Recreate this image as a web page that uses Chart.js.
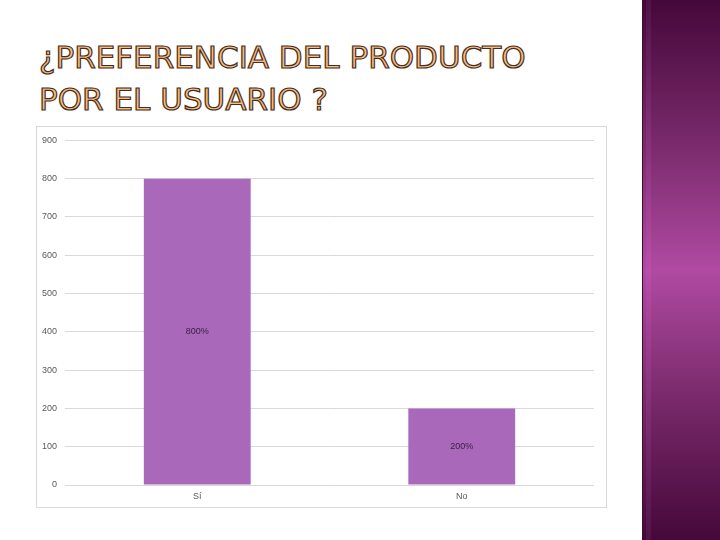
<!DOCTYPE html>
<html>
<head>
<meta charset="utf-8">
<script src="https://cdn.jsdelivr.net/npm/chart.js@4"></script>
<style>
  html, body { margin: 0; padding: 0; background: #fff; }
  #slide { position: relative; width: 720px; height: 540px; overflow: hidden; background: #fff; }
  #band {
    position: absolute; left: 642px; top: 0; width: 78px; height: 540px;
    background: linear-gradient(to bottom, #45083a 0%, #762868 25%, #b04aa2 50%, #762868 75%, #45083a 100%);
    border-left: 1px solid #3a1030;
  }
  #band::before {
    content: ""; position: absolute; left: 3px; top: 0; width: 5px; height: 540px;
    background: linear-gradient(to bottom, #5a1a50, #c050b0 50%, #5a1a50);
    opacity: 0.6;
  }
  #title {
    position: absolute; left: 39px; top: 36px; width: 600px;
    font-family: "DejaVu Sans", sans-serif; font-size: 31px; line-height: 42px;
    letter-spacing: 0px; color: #f6bf80;
    -webkit-text-stroke: 1.2px #4a2c1c;
  }
  #box {
    position: absolute; left: 36px; top: 126px; width: 569px; height: 380px;
    border: 1px solid #d9d9d9;
  }
</style>
</head>
<body>
<div id="slide">
  <div id="band"></div>
  <div id="title">¿PREFERENCIA DEL PRODUCTO<br>POR EL USUARIO ?</div>
  <div id="box"><canvas id="chart" width="569" height="380"></canvas></div>
</div>
<script>
const categories = ["Sí", "No"];
const values = [800, 200];
const labels = ["800%", "200%"];
const yTicks = [0, 100, 200, 300, 400, 500, 600, 700, 800, 900];

const barLabels = {
  id: "barLabels",
  afterDatasetsDraw(chart) {
    const ctx = chart.ctx;
    const meta = chart.getDatasetMeta(0);
    ctx.save();
    ctx.font = "9px 'Liberation Sans', sans-serif";
    ctx.fillStyle = "#3b1d45";
    ctx.textAlign = "center";
    ctx.textBaseline = "middle";
    meta.data.forEach((bar, i) => {
      const mid = (bar.y + bar.base) / 2;
      ctx.fillText(labels[i], bar.x, mid);
    });
    ctx.restore();
  }
};

new Chart(document.getElementById("chart").getContext("2d"), {
  type: "bar",
  data: {
    labels: categories,
    datasets: [{
      data: values,
      backgroundColor: "#a968ba",
      borderWidth: 0,
      categoryPercentage: 1,
      barPercentage: 0.404
    }]
  },
  options: {
    responsive: false,
    animation: false,
    layout: { padding: { top: 5, right: 12, left: 2, bottom: 0 } },
    plugins: { legend: { display: false }, tooltip: { enabled: false } },
    scales: {
      x: {
        grid: { display: false, drawTicks: false },
        border: { display: false },
        ticks: { color: "#595959", font: { size: 9, family: "Liberation Sans" }, padding: 6 },
        afterFit: s => { s.height = 22; }
      },
      y: {
        min: 0, max: 900,
        afterBuildTicks: s => { s.ticks = yTicks.map(v => ({ value: v })); },
        grid: { color: "#d9d9d9", drawTicks: false },
        border: { display: false },
        ticks: { color: "#595959", font: { size: 9, family: "Liberation Sans" }, padding: 8 },
        afterFit: s => { s.width = 26; }
      }
    }
  },
  plugins: [barLabels]
});
</script>
</body>
</html>
